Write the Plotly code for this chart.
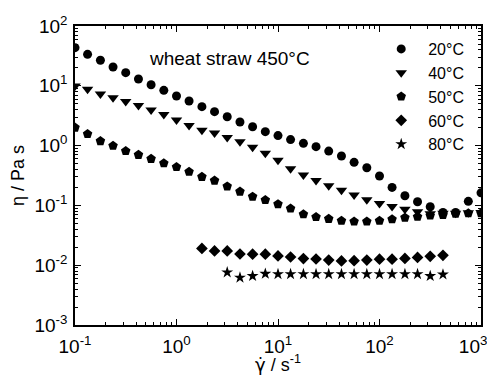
import plotly.graph_objects as go

shear_rate = [0.1, 0.133, 0.178, 0.237, 0.316, 0.422, 0.562, 0.75, 1.0, 1.33, 1.78,
              2.37, 3.16, 4.22, 5.62, 7.5, 10, 13.3, 17.8, 23.7, 31.6, 42.2, 56.2, 75,
              100, 133, 178, 237, 316, 422, 562, 750, 1000]

eta_20 = [43.4, 33.6, 26.7, 20.6, 16.6, 13.0, 10.4, 8.4, 6.75, 5.57, 4.48, 3.69, 3.04,
          2.48, 2.07, 1.71, 1.47, 1.26, 1.09, 0.96, 0.81, 0.67, 0.525, 0.427, 0.31,
          0.20, 0.145, 0.115, 0.095, 0.076, 0.076, 0.117, 0.162]
eta_40 = [9.93, 8.73, 7.29, 6.32, 5.46, 4.68, 3.94, 3.30, 2.69, 2.17, 1.81, 1.63, 1.36,
          1.16, 0.935, 0.743, 0.568, 0.411, 0.322, 0.261, 0.214, 0.179, 0.149, 0.124,
          0.108, 0.0955, 0.0861, 0.0785, 0.0724, 0.074, 0.074, 0.075, 0.076]
eta_50 = [2.0, 1.56, 1.19, 0.995, 0.81, 0.70, 0.60, 0.506, 0.438, 0.366, 0.30, 0.26,
          0.208, 0.17, 0.14, 0.123, 0.105, 0.089, 0.071, 0.0638, 0.0596, 0.0555, 0.0537,
          0.0537, 0.0555, 0.0586, 0.0624, 0.0646, 0.0676, 0.0692, 0.0724, 0.0741, 0.0741]
eta_60 = [0.0191, 0.0173, 0.0173, 0.0154, 0.0153, 0.0153, 0.0143, 0.0137, 0.0129, 0.0127,
          0.0122, 0.0118, 0.0119, 0.0122, 0.0126, 0.0126, 0.0130, 0.0135, 0.0141, 0.0146]
eta_80 = [0.0076, 0.0062, 0.0066, 0.0072, 0.0071, 0.0071, 0.0071, 0.0071, 0.0071, 0.0071,
          0.0071, 0.0071, 0.0071, 0.0071, 0.0071, 0.0071, 0.0066, 0.0070]

start_60 = 10
start_80 = 12

series = [
    ("20°C", shear_rate, eta_20, "circle", 9),
    ("40°C", shear_rate, eta_40, "triangle-down", 10),
    ("50°C", shear_rate, eta_50, "pentagon", 10),
    ("60°C", shear_rate[start_60:start_60 + len(eta_60)], eta_60, "diamond", 9),
    ("80°C", shear_rate[start_80:start_80 + len(eta_80)], eta_80, "star", 9),
]

x_tickvals = [0.1, 1, 10, 100, 1000]
x_ticktext = ["10<sup>-1</sup>", "10<sup>0</sup>", "10<sup>1</sup>", "10<sup>2</sup>",
              "10<sup>3</sup>\u00a0\u00a0\u00a0"]
y_tickvals = [0.001, 0.01, 0.1, 1, 10, 100]
y_ticktext = ["10<sup>-3</sup>", "10<sup>-2</sup>", "10<sup>-1</sup>", "10<sup>0</sup>",
              "10<sup>1</sup>", "10<sup>2</sup>"]

def minor_vals(decades):
    out = []
    for d in decades:
        for m in range(2, 10):
            out.append(m * d)
    return out

fig = go.Figure()
for name, xs, ys, sym, sz in series:
    fig.add_trace(go.Scatter(
        x=xs, y=ys, mode="markers", name=name,
        marker=dict(symbol=sym, size=sz, color="black", line=dict(width=0)),
    ))

FONT = "Liberation Sans, Arial, sans-serif"
axis_common = dict(
    type="log", showgrid=False, zeroline=False, automargin=False,
    showline=True, linecolor="black", linewidth=1.5, mirror="allticks",
    ticks="inside", ticklen=6, tickwidth=1.2, tickcolor="black",
    ticklabeloverflow="allow",
    tickfont=dict(family=FONT, size=19, color="black"),
)

fig.update_xaxes(
    **axis_common,
    range=[-1, 3],
    tickmode="array", tickvals=x_tickvals, ticktext=x_ticktext,
    ticklabelstandoff=3,
    minor=dict(tickmode="array", tickvals=minor_vals([0.1, 1, 10, 100]),
               ticks="inside", ticklen=3, tickwidth=1, tickcolor="black"),
    title=dict(text="<span style='font-family:DejaVu Sans'>γ̇</span> / s<sup>-1</sup>",
               font=dict(family=FONT, size=18, color="black"),
               standoff=2),
)
fig.update_yaxes(
    **axis_common,
    range=[-3, 2],
    tickmode="array", tickvals=y_tickvals, ticktext=y_ticktext,
    ticklabelstandoff=2,
    minor=dict(tickmode="array", tickvals=minor_vals([0.001, 0.01, 0.1, 1, 10]),
               ticks="inside", ticklen=3, tickwidth=1, tickcolor="black"),
    title=dict(text="η / Pa s", font=dict(family=FONT, size=18, color="black"),
               standoff=11),
)

fig.add_annotation(
    text="wheat straw 450°C", xref="paper", yref="paper",
    x=0.177, y=0.89, xanchor="left", yanchor="middle", showarrow=False,
    font=dict(family=FONT, size=19, color="black"),
)

# page body adds an 8px offset; figure is sized so the plot lands at the reference position
fig.update_layout(
    width=487, height=367,
    margin=dict(l=67, r=14, t=18, b=50),
    paper_bgcolor="white", plot_bgcolor="white",
    font=dict(family=FONT, size=18, color="black"),
    legend=dict(
        x=0.737, y=0.98, xanchor="left", yanchor="top",
        bgcolor="rgba(0,0,0,0)", borderwidth=0,
        font=dict(family=FONT, size=16, color="black"),
        itemsizing="trace", itemwidth=44, tracegroupgap=0,
    ),
)

fig.write_html("out.html")
